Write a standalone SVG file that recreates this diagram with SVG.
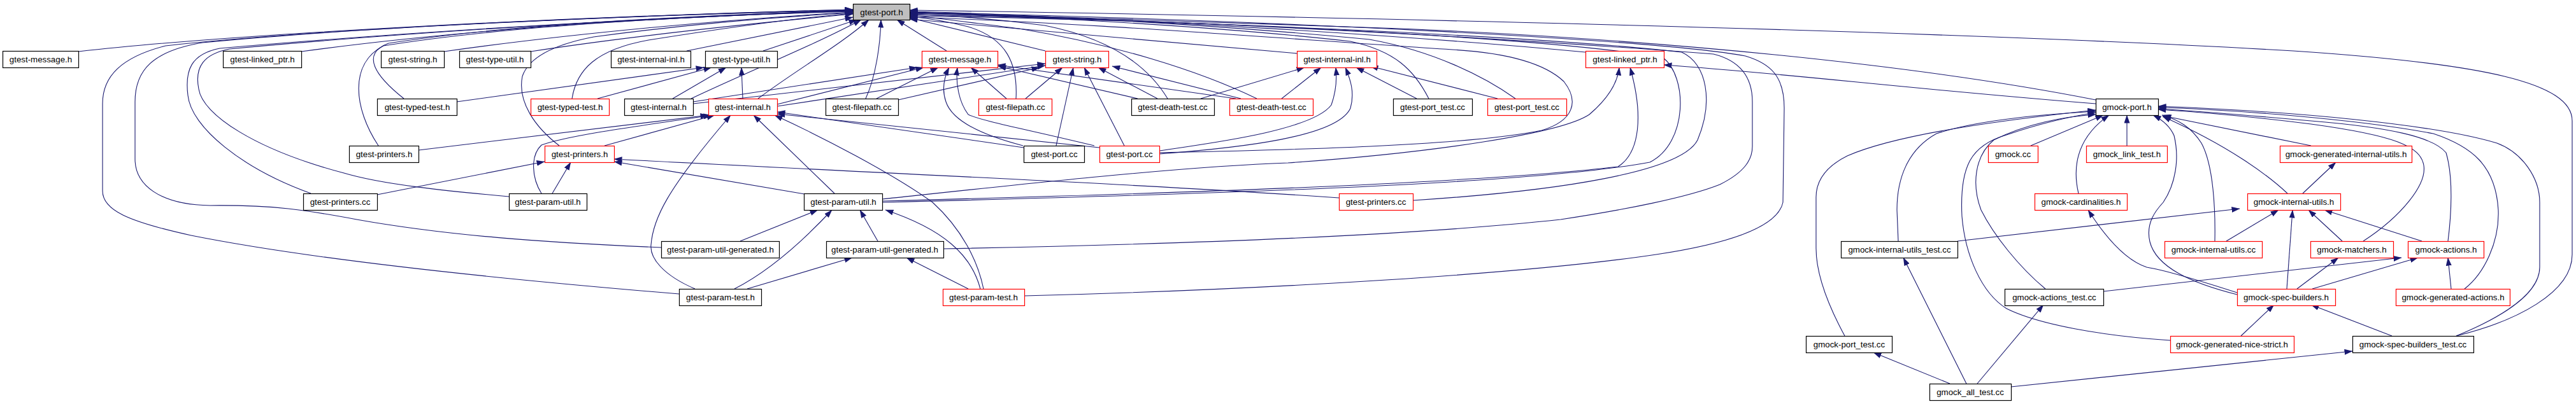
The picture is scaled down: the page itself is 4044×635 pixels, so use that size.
<svg xmlns="http://www.w3.org/2000/svg" width="4044" height="635" viewBox="0 0 4044 635">
<defs>
<style>
.n rect{fill:#fff;stroke:#000;stroke-width:1.2}
.n.r rect{stroke:#ff0000}
.n.g rect{fill:#bfbfbf}
.n text{font-family:"Liberation Sans",Arial,sans-serif;font-size:13.3px;text-anchor:middle;fill:#000}
#edges path{fill:none;stroke:#191970;stroke-width:1.1;marker-end:url(#a)}
</style>
<marker id="a" markerUnits="userSpaceOnUse" markerWidth="13" markerHeight="9" refX="12.5" refY="4.5" orient="auto" viewBox="0 0 13 9"><path d="M0,0 L13,4.5 L0,9 z" fill="#191970"/></marker>
</defs>
<rect width="4044" height="635" fill="#fff"/>
<g id="edges">
<path d="M123,81 C380,52 900,26 1339,15"/>
<path d="M473,81 C700,50 1000,28 1339,17"/>
<path d="M697,81 C900,52 1150,30 1339,19"/>
<path d="M833,81 C1000,55 1200,35 1339,22"/>
<path d="M1078,80 L1339,27"/>
<path d="M1198,80 L1345,31"/>
<path d="M634,155 C590,120 565,85 610,68 C800,38 1100,24 1339,17"/>
<path d="M898,155 C905,110 935,78 1018,63 C1150,42 1250,28 1339,21"/>
<path d="M1085,155 C1180,110 1280,70 1352,31"/>
<path d="M1190,155 C1250,110 1320,70 1364,31"/>
<path d="M594,229 C555,170 548,100 602,72 C800,40 1100,24 1339,18"/>
<path d="M488,304 C380,265 300,200 295,150 C290,110 300,85 345,76 C700,45 1100,25 1339,16"/>
<path d="M799,309 C700,300 600,290 540,272 C400,235 318,180 312,140 C305,105 320,85 360,77 C700,45 1100,25 1339,17"/>
<path d="M1038,389 C850,381 700,370 560,345 C480,330 430,322 330,323 C250,322 212,290 212,250 L212,160 C212,110 240,80 318,67 C600,40 1000,24 1339,16"/>
<path d="M1066,462 C800,440 500,410 300,370 C200,348 161,330 161,300 L161,163 C161,120 190,90 260,72 C500,45 1000,24 1339,15"/>
<path d="M878,229 C840,200 812,160 820,120 C830,90 870,70 932,58 C1100,35 1250,25 1339,20"/>
<path d="M1359,155 C1375,120 1382,70 1383,31"/>
<path d="M1486,80 L1408,31"/>
<path d="M1641,80 L1428,28"/>
<path d="M1595,155 C1598,100 1580,60 1520,42 C1480,32 1450,28 1428,26"/>
<path d="M1833,155 C1800,100 1740,60 1640,40 C1550,28 1480,24 1428,22"/>
<path d="M1973,155 C1880,110 1750,70 1600,45 C1520,35 1470,28 1428,24"/>
<path d="M2243,155 C2220,110 2190,80 2120,65 C1900,40 1600,25 1428,20"/>
<path d="M2379,155 C2330,120 2250,80 2150,62 C1900,38 1600,22 1428,18"/>
<path d="M2036,84 L1428,30"/>
<path d="M2489,82 C2200,55 1800,30 1428,20"/>
<path d="M3290,157 C3000,100 2600,62 2200,45 C1900,33 1600,24 1428,19"/>
<path d="M3856,528 C3950,505 4038,460 4038,400 L4038,190 C4038,130 3900,100 3600,80 C3000,45 2000,25 1428,16"/>
<path d="M1481,391 C1800,385 2200,372 2450,345 C2550,330 2650,310 2700,290 C2740,270 2751,250 2751,230 L2751,160 C2751,120 2730,95 2690,85 C2300,55 1800,30 1428,21"/>
<path d="M1608,465 C2000,455 2400,430 2600,400 C2700,385 2790,360 2799,318 L2801,170 C2801,120 2780,100 2740,88 C2600,62 2000,32 1428,19"/>
<path d="M1385,318 C1900,305 2400,290 2590,255 C2650,225 2650,120 2610,90 C2400,55 1800,30 1428,23"/>
<path d="M2218,315 C2450,300 2640,270 2665,220 C2690,160 2680,100 2640,82 C2400,55 1800,30 1428,25"/>
<path d="M1820,240 C2000,236 2300,230 2420,205 C2470,190 2480,160 2455,128 C2420,95 2350,82 2280,78 C2000,60 1700,35 1428,27"/>
<path d="M717,160 L1105,106"/>
<path d="M938,155 L1117,106"/>
<path d="M1056,155 L1140,106"/>
<path d="M1166,155 L1164,106"/>
<path d="M657,236 L1112,181"/>
<path d="M949,229 L1122,181"/>
<path d="M850,304 C835,280 832,245 850,228 C900,210 1050,192 1117,181"/>
<path d="M592,306 L855,254"/>
<path d="M867,304 L896,255"/>
<path d="M1263,305 L964,254"/>
<path d="M2102,311 C1800,290 1500,278 964,250"/>
<path d="M1091,454 C1040,432 1020,405 1022,385 C1025,345 1045,300 1147,181"/>
<path d="M1310,304 L1183,181"/>
<path d="M1544,454 C1535,410 1510,360 1464,318 C1400,272 1290,215 1216,181"/>
<path d="M1162,379 L1284,330"/>
<path d="M1153,454 C1200,430 1250,390 1306,330"/>
<path d="M1173,454 L1338,405"/>
<path d="M1378,379 L1350,330"/>
<path d="M1539,454 C1525,400 1480,360 1390,330"/>
<path d="M1520,454 L1423,405"/>
<path d="M1385,316 C1800,305 2300,290 2540,262 C2575,240 2580,180 2559,106"/>
<path d="M1385,313 C1600,290 1850,262 2022,256 C2250,240 2450,210 2495,180 C2530,150 2540,125 2542,106"/>
<path d="M1088,160 L1440,106"/>
<path d="M1088,163 L1641,100"/>
<path d="M1220,164 L1450,106"/>
<path d="M1220,167 L1641,103"/>
<path d="M1607,232 L1220,176"/>
<path d="M1726,232 L1220,179"/>
<path d="M1376,155 L1473,106"/>
<path d="M1410,157 L1632,106"/>
<path d="M1580,155 L1524,106"/>
<path d="M1610,155 L1668,106"/>
<path d="M1606,229 C1540,212 1495,190 1485,160 C1478,140 1483,120 1490,106"/>
<path d="M1718,229 C1620,205 1540,190 1520,180 C1505,160 1500,130 1503,106"/>
<path d="M1658,229 L1685,106"/>
<path d="M1765,229 L1702,106"/>
<path d="M1786,155 L1567,104"/>
<path d="M1817,155 L1724,106"/>
<path d="M1940,155 L1566,102"/>
<path d="M1948,155 L1746,104"/>
<path d="M1885,155 L2048,106"/>
<path d="M2012,155 L2074,106"/>
<path d="M1820,237 C1900,225 2060,205 2090,165 C2097,145 2099,125 2097,106"/>
<path d="M1820,242 C1950,232 2100,215 2120,170 C2127,145 2120,125 2112,106"/>
<path d="M2224,155 L2129,106"/>
<path d="M2351,155 L2151,104"/>
<path d="M3290,163 C3000,140 2800,115 2612,102"/>
<path d="M3188,229 L3302,181"/>
<path d="M3339,229 L3339,181"/>
<path d="M3263,304 C3255,270 3255,220 3311,181"/>
<path d="M2896,528 C2870,480 2851,430 2851,390 L2851,310 C2851,280 2870,260 2900,245 C2980,210 3150,188 3290,173"/>
<path d="M2980,379 L2978,330 C2978,280 2995,235 3040,210 C3100,190 3200,180 3290,175"/>
<path d="M3407,535 C3300,528 3200,510 3150,485 C3110,460 3085,400 3080,340 C3076,260 3095,228 3150,212 C3200,195 3250,183 3290,177"/>
<path d="M3211,454 C3170,420 3130,370 3110,330 C3095,290 3100,245 3130,220 C3180,195 3240,183 3290,180"/>
<path d="M3628,229 L3396,182"/>
<path d="M3591,304 C3560,275 3500,230 3395,183"/>
<path d="M3477,379 C3478,330 3475,260 3456,225 C3440,200 3420,188 3394,181"/>
<path d="M3512,463 C3440,445 3385,420 3375,380 C3368,350 3385,330 3396,318 C3415,290 3422,250 3413,213 C3405,195 3390,186 3380,181"/>
<path d="M3710,379 C3770,340 3810,290 3805,260 C3800,230 3760,213 3628,195 C3550,185 3450,176 3388,172"/>
<path d="M3843,379 C3848,340 3852,280 3840,240 C3820,215 3750,200 3628,190 C3550,183 3450,175 3388,171"/>
<path d="M3869,454 C3900,430 3924,380 3922,330 C3918,260 3880,230 3820,210 C3700,187 3500,172 3388,169"/>
<path d="M3856,528 C3900,510 3987,470 3987,420 L3987,318 C3987,280 3960,240 3920,225 C3820,195 3600,175 3388,167"/>
<path d="M3615,304 L3667,255"/>
<path d="M3495,379 L3577,330"/>
<path d="M3590,454 L3599,330"/>
<path d="M3677,379 L3624,330"/>
<path d="M3802,379 L3649,330"/>
<path d="M3606,454 L3671,405"/>
<path d="M3630,454 L3796,405"/>
<path d="M3848,454 L3843,405"/>
<path d="M3518,528 L3570,479"/>
<path d="M3755,528 L3628,479"/>
<path d="M3512,460 C3450,440 3400,425 3370,420 C3340,410 3310,380 3278,330"/>
<path d="M3302,458 L3770,405"/>
<path d="M3073,379 L3516,328"/>
<path d="M3157,608 L3693,552"/>
<path d="M3087,603 L2988,405"/>
<path d="M3061,603 L2941,554"/>
<path d="M3104,603 L3208,479"/>
</g>
<g id="n0" class="n g"><rect x="1339.5" y="6.5" width="89" height="25"/><text x="1384" y="23.5">gtest-port.h</text></g>
<g id="a1" class="n"><rect x="4.5" y="80.5" width="119" height="26"/><text x="64" y="98">gtest-message.h</text></g>
<g id="a2" class="n"><rect x="350.5" y="80.5" width="123" height="26"/><text x="412" y="98">gtest-linked_ptr.h</text></g>
<g id="a3" class="n"><rect x="598.5" y="80.5" width="99" height="26"/><text x="648" y="98">gtest-string.h</text></g>
<g id="a4" class="n"><rect x="721.5" y="80.5" width="112" height="26"/><text x="777" y="98">gtest-type-util.h</text></g>
<g id="a5" class="n"><rect x="959.5" y="80.5" width="125" height="26"/><text x="1022" y="98">gtest-internal-inl.h</text></g>
<g id="a6" class="n"><rect x="1107.5" y="80.5" width="113" height="26"/><text x="1164" y="98">gtest-type-util.h</text></g>
<g id="a7" class="n r"><rect x="1447.5" y="80.5" width="119" height="26"/><text x="1507" y="98">gtest-message.h</text></g>
<g id="a8" class="n r"><rect x="1641.5" y="80.5" width="99" height="26"/><text x="1691" y="98">gtest-string.h</text></g>
<g id="a9" class="n r"><rect x="2036.5" y="80.5" width="125" height="26"/><text x="2099" y="98">gtest-internal-inl.h</text></g>
<g id="a10" class="n r"><rect x="2489.5" y="80.5" width="123" height="26"/><text x="2551" y="98">gtest-linked_ptr.h</text></g>
<g id="b1" class="n"><rect x="592.5" y="155.5" width="125" height="26"/><text x="655" y="173">gtest-typed-test.h</text></g>
<g id="b2" class="n r"><rect x="833.5" y="155.5" width="123" height="26"/><text x="895" y="173">gtest-typed-test.h</text></g>
<g id="b3" class="n"><rect x="980.5" y="155.5" width="108" height="26"/><text x="1034" y="173">gtest-internal.h</text></g>
<g id="b4" class="n r"><rect x="1112.5" y="155.5" width="108" height="26"/><text x="1166" y="173">gtest-internal.h</text></g>
<g id="b5" class="n"><rect x="1296.5" y="155.5" width="114" height="26"/><text x="1353" y="173">gtest-filepath.cc</text></g>
<g id="b6" class="n r"><rect x="1536.5" y="155.5" width="115" height="26"/><text x="1594" y="173">gtest-filepath.cc</text></g>
<g id="b7" class="n"><rect x="1776.5" y="155.5" width="130" height="26"/><text x="1841" y="173">gtest-death-test.cc</text></g>
<g id="b8" class="n r"><rect x="1930.5" y="155.5" width="131" height="26"/><text x="1996" y="173">gtest-death-test.cc</text></g>
<g id="b9" class="n"><rect x="2187.5" y="155.5" width="124" height="26"/><text x="2249" y="173">gtest-port_test.cc</text></g>
<g id="b10" class="n r"><rect x="2335.5" y="155.5" width="124" height="26"/><text x="2397" y="173">gtest-port_test.cc</text></g>
<g id="b11" class="n"><rect x="3290.5" y="155.5" width="98" height="26"/><text x="3339" y="173">gmock-port.h</text></g>
<g id="c1" class="n"><rect x="548.5" y="229.5" width="109" height="26"/><text x="603" y="247">gtest-printers.h</text></g>
<g id="c2" class="n r"><rect x="855.5" y="229.5" width="109" height="26"/><text x="910" y="247">gtest-printers.h</text></g>
<g id="c3" class="n"><rect x="1607.5" y="229.5" width="95" height="26"/><text x="1655" y="247">gtest-port.cc</text></g>
<g id="c4" class="n r"><rect x="1726.5" y="229.5" width="94" height="26"/><text x="1773" y="247">gtest-port.cc</text></g>
<g id="c5" class="n r"><rect x="3121.5" y="229.5" width="78" height="26"/><text x="3160" y="247">gmock.cc</text></g>
<g id="c6" class="n r"><rect x="3275.5" y="229.5" width="127" height="26"/><text x="3339" y="247">gmock_link_test.h</text></g>
<g id="c7" class="n r"><rect x="3579.5" y="229.5" width="207" height="26"/><text x="3683" y="247">gmock-generated-internal-utils.h</text></g>
<g id="d1" class="n"><rect x="476.5" y="304.5" width="116" height="26"/><text x="534" y="322">gtest-printers.cc</text></g>
<g id="d2" class="n"><rect x="799.5" y="304.5" width="122" height="26"/><text x="860" y="322">gtest-param-util.h</text></g>
<g id="d3" class="n"><rect x="1262.5" y="304.5" width="123" height="26"/><text x="1324" y="322">gtest-param-util.h</text></g>
<g id="d4" class="n r"><rect x="2102.5" y="304.5" width="116" height="26"/><text x="2160" y="322">gtest-printers.cc</text></g>
<g id="d5" class="n r"><rect x="3194.5" y="304.5" width="145" height="26"/><text x="3267" y="322">gmock-cardinalities.h</text></g>
<g id="d6" class="n r"><rect x="3528.5" y="304.5" width="146" height="26"/><text x="3601" y="322">gmock-internal-utils.h</text></g>
<g id="e1" class="n"><rect x="1038.5" y="379.5" width="185" height="26"/><text x="1131" y="397">gtest-param-util-generated.h</text></g>
<g id="e2" class="n"><rect x="1297.5" y="379.5" width="184" height="26"/><text x="1389" y="397">gtest-param-util-generated.h</text></g>
<g id="e3" class="n"><rect x="2890.5" y="379.5" width="183" height="26"/><text x="2982" y="397">gmock-internal-utils_test.cc</text></g>
<g id="e4" class="n r"><rect x="3398.5" y="379.5" width="153" height="26"/><text x="3475" y="397">gmock-internal-utils.cc</text></g>
<g id="e5" class="n r"><rect x="3627.5" y="379.5" width="130" height="26"/><text x="3692" y="397">gmock-matchers.h</text></g>
<g id="e6" class="n r"><rect x="3780.5" y="379.5" width="119" height="26"/><text x="3840" y="397">gmock-actions.h</text></g>
<g id="f1" class="n"><rect x="1066.5" y="454.5" width="129" height="26"/><text x="1131" y="472">gtest-param-test.h</text></g>
<g id="f2" class="n r"><rect x="1480.5" y="454.5" width="128" height="26"/><text x="1544" y="472">gtest-param-test.h</text></g>
<g id="f3" class="n"><rect x="3147.5" y="454.5" width="155" height="26"/><text x="3225" y="472">gmock-actions_test.cc</text></g>
<g id="f4" class="n r"><rect x="3512.5" y="454.5" width="154" height="26"/><text x="3589" y="472">gmock-spec-builders.h</text></g>
<g id="f5" class="n r"><rect x="3761.5" y="454.5" width="179" height="26"/><text x="3851" y="472">gmock-generated-actions.h</text></g>
<g id="g1" class="n"><rect x="2835.5" y="528.5" width="135" height="26"/><text x="2903" y="546">gmock-port_test.cc</text></g>
<g id="g2" class="n r"><rect x="3407.5" y="528.5" width="194" height="26"/><text x="3504" y="546">gmock-generated-nice-strict.h</text></g>
<g id="g3" class="n"><rect x="3693.5" y="528.5" width="190" height="26"/><text x="3788" y="546">gmock-spec-builders_test.cc</text></g>
<g id="h1" class="n"><rect x="3029.5" y="603.5" width="128" height="26"/><text x="3093" y="621">gmock_all_test.cc</text></g>
</svg>
